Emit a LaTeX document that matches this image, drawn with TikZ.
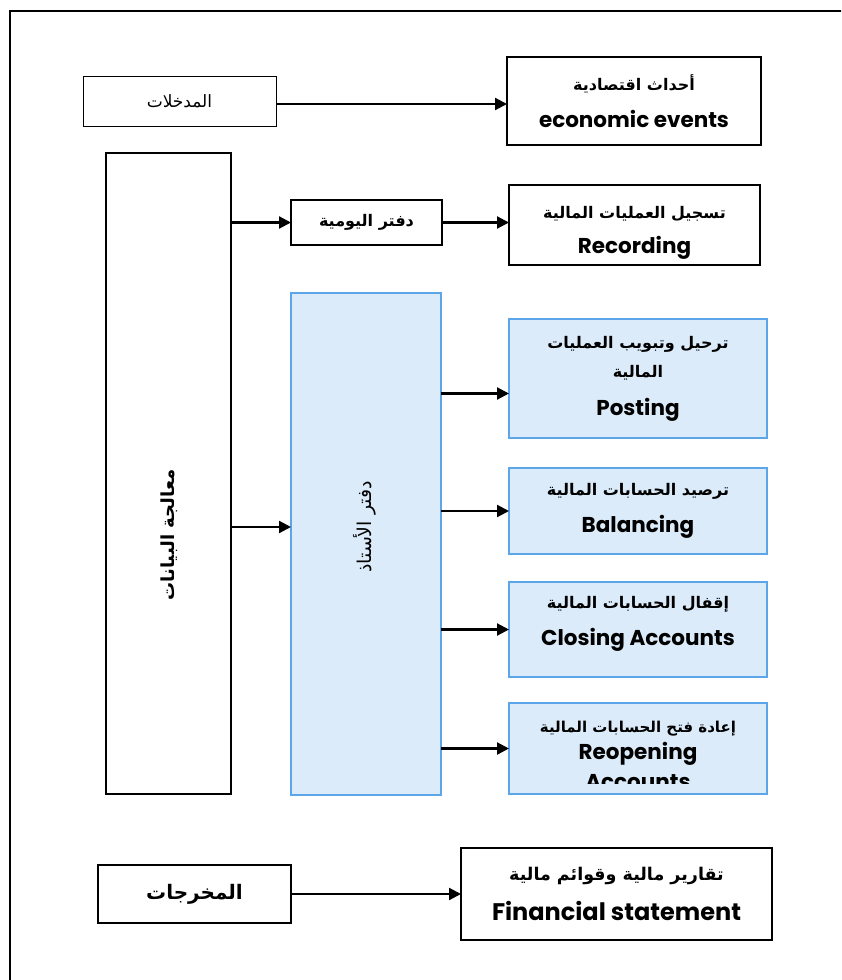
\documentclass[tikz,border=0pt]{standalone}
\usepackage{fontspec}
\usetikzlibrary{arrows.meta}
\TeXXeTstate=1
\newfontfamily\arfont[Script=Arabic]{DejaVu Sans}
\newfontfamily\enfont{Poppins}
% Arabic runs right to left
\newcommand\arbold[2][16]{{\fontsize{#1}{#1}\arfont\bfseries\beginR #2\endR}}
\newcommand\arplain[2][14]{{\fontsize{#1}{#1}\arfont\beginR #2\endR}}
\newcommand\enbold[2][21.5]{{\fontsize{#1}{#1}\enfont\bfseries #2}}

\definecolor{ledgerfill}{RGB}{219,235,249}
\definecolor{ledgerline}{RGB}{92,165,232}

\tikzset{
  box/.style={draw=black, fill=white, inner sep=0pt, outer sep=0pt, align=center},
  thinbox/.style={box, line width=1pt},
  midbox/.style={box, line width=1.5pt},
  heavybox/.style={box, line width=1.9pt},
  bluebox/.style={box, draw=ledgerline, fill=ledgerfill, line width=1.6pt},
  label/.style={inner sep=0pt, align=center},
  flow/.style={line width=2.2pt, -{Triangle[length=12pt,width=12pt]}},
}

\begin{document}
\begin{tikzpicture}[x=1pt,y=-1pt]
\useasboundingbox (0,0) rectangle (841,980);
\clip (0,0) rectangle (841,980);

% page frame (runs off the right and bottom edges)
\draw[line width=2pt] (10,11) rectangle (880,1020);

% inputs
\node[thinbox, minimum width=193pt, minimum height=50pt] (inputs) at (179.5,101)
  {\arplain[17]{المدخلات}};
\node[heavybox, minimum width=254pt, minimum height=88pt] (events) at (634,101)
  {\arbold{أحداث اقتصادية}\\[16pt]\enbold{economic events}};

% data processing column
\node[midbox, minimum width=125pt, minimum height=641pt] (process) at (168.5,473.5) {};
\node[label, rotate=90] (processlabel) at (169,535) {\arbold[18]{معالجة البيانات}};

% journal and recording
\node[midbox, minimum width=151pt, minimum height=45pt] (journal) at (366.5,222.5)
  {\arbold{دفتر اليومية}};
\node[heavybox, minimum width=251pt, minimum height=80pt] (recording) at (634.5,225)
  {\rule{0pt}{28pt}\arbold{تسجيل العمليات المالية}\\[13pt]\enbold{Recording}};

% ledger
\node[bluebox, minimum width=150pt, minimum height=502pt] (ledger) at (366,544) {};
\node[label, rotate=90] (ledgerlabel) at (365,527) {\arplain[19]{دفتر  الأستاذ}};

% ledger operations
\node[bluebox, minimum width=258pt, minimum height=119pt] (posting) at (638,378.5)
  {\arbold{ترحيل وتبويب العمليات}\\[12pt]\arbold{المالية}\\[17pt]\enbold{Posting}};
\node[bluebox, minimum width=258pt, minimum height=86pt] (balancing) at (638,511)
  {\arbold{ترصيد الحسابات المالية}\\[15pt]\enbold{Balancing}};
\node[bluebox, minimum width=258pt, minimum height=95pt] (closing) at (638,629.5)
  {\arbold{إقفال الحسابات المالية}\\[15pt]\enbold{Closing Accounts}\\[6pt]};
\node[bluebox, minimum width=258pt, minimum height=91pt] (reopening) at (638,748.5) {};
\begin{scope}
  % the last line is cut off by the box's text area
  \clip (509,700) rectangle (767,783);
  \node[label] (reopeninglabel) at (638,755)
    {\arbold[15]{إعادة فتح  الحسابات المالية}\\[5pt]\enbold{Reopening}\\[8pt]\enbold{Accounts}};
\end{scope}

% outputs
\node[heavybox, minimum width=193pt, minimum height=58pt] (outputs) at (194.5,894)
  {\arbold[20]{المخرجات}};
\node[heavybox, minimum width=311pt, minimum height=92pt] (financial) at (616.5,894)
  {\arbold[17.5]{تقارير مالية وقوائم مالية}\\[16pt]\enbold[24]{Financial statement}};

% connectors
\draw[flow] ([yshift=-3pt]inputs.east) -- ([yshift=-3pt]events.west);
\draw[flow] (process.east |- journal.west) -- (journal.west);
\draw[flow] (journal.east) -- (recording.west |- journal.east);
\draw[flow] (process.east |- ledgerlabel) -- (ledger.west |- ledgerlabel);
\draw[flow] ([yshift=-15pt]ledger.east |- posting.west) -- ([yshift=-15pt]posting.west);
\draw[flow] (ledger.east |- balancing.west) -- (balancing.west);
\draw[flow] (ledger.east |- closing.west) -- (closing.west);
\draw[flow] (ledger.east |- reopening.west) -- (reopening.west);
\draw[flow] (outputs.east) -- (financial.west);
\end{tikzpicture}
\end{document}
